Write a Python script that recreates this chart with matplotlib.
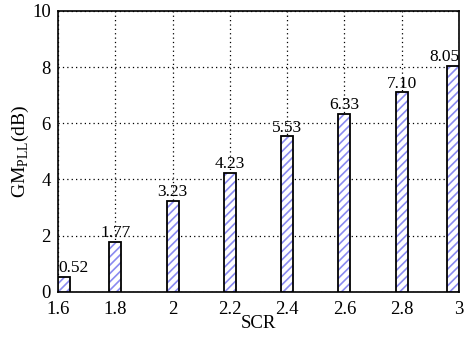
import matplotlib
matplotlib.use("Agg")
import matplotlib.pyplot as plt

# SCR values and gain margin of the PLL
scr = [1.6, 1.8, 2.0, 2.2, 2.4, 2.6, 2.8, 3.0]
gm = [0.52, 1.77, 3.23, 4.23, 5.53, 6.33, 7.10, 8.05]
labels = ["0.52", "1.77", "3.23", "4.23", "5.53", "6.33", "7.10", "8.05"]
xticks = [1.6, 1.8, 2.0, 2.2, 2.4, 2.6, 2.8, 3.0]
xticklabels = ["1.6", "1.8", "2", "2.2", "2.4", "2.6", "2.8", "3"]

plt.rcParams["font.family"] = ["Liberation Serif", "DejaVu Serif"]
plt.rcParams["mathtext.fontset"] = "custom"
plt.rcParams["mathtext.rm"] = "Liberation Serif"
plt.rcParams["hatch.linewidth"] = 1.2

fig = plt.figure(figsize=(4.67, 3.39), dpi=100)
ax = fig.add_axes([0.124, 0.139, 0.859, 0.829])

w = 0.042
# keep the end bars inside the axis limits
pos = list(scr)
pos[0] = scr[0] + w / 2
pos[-1] = scr[-1] - w / 2

ax.set_axisbelow(True)
ax.grid(True, linestyle=(0, (1, 2.5)), color="black", linewidth=0.9)
# hatch fill in light blue, then a black outline on top
ax.bar(pos, gm, width=w, color="white", edgecolor="#8a8af0", linewidth=0,
       hatch="////", zorder=3)
ax.bar(pos, gm, width=w, fill=False, edgecolor="black", linewidth=1.3,
       zorder=4)
n = len(pos)
for i, (x, y, t) in enumerate(zip(pos, gm, labels)):
    ha = "center"
    if i == 0:
        ha, x = "left", x - w / 2
    elif i == n - 1:
        ha, x = "right", x + w / 2
    ax.text(x, y + 0.03, t, ha=ha, va="bottom", fontsize=12.5, zorder=5)

ax.set_xlim(1.6, 3.0)
ax.set_ylim(0, 10)
ax.set_xticks(xticks)
ax.set_xticklabels(xticklabels)
ax.set_yticks([0, 2, 4, 6, 8, 10])
ax.tick_params(direction="in", length=0, labelsize=13.5)
ax.tick_params(axis="x", pad=6.5)
ax.tick_params(axis="y", pad=5)
for s in ax.spines.values():
    s.set_linewidth(1.2)
ax.set_xlabel("SCR", fontsize=13.5, labelpad=-2)
ax.set_ylabel(r"GM$_{\mathrm{PLL}}$(dB)", fontsize=14, labelpad=1)

fig.savefig("out.png", dpi=100)
